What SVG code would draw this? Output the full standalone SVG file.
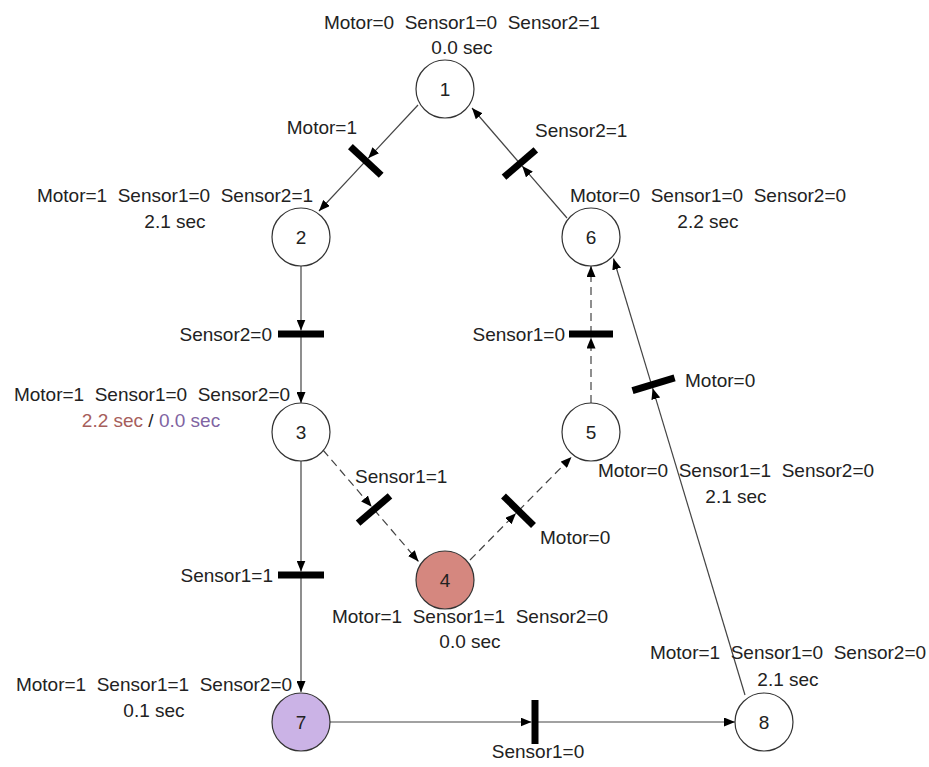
<svg xmlns="http://www.w3.org/2000/svg" width="929" height="767" viewBox="0 0 929 767">
<style>
text{font-family:"Liberation Sans",Arial,sans-serif;font-size:19px;fill:#222;white-space:pre}
.c{text-anchor:middle}
.e{text-anchor:end}
.node{fill:#fff;stroke:#333;stroke-width:1.2}
.edge{fill:none;stroke:#444;stroke-width:1.2}
.dash{stroke-dasharray:8 5}
.bar{stroke:#000;stroke-width:7;stroke-linecap:butt}
</style>
<defs>
<marker id="ah" markerUnits="userSpaceOnUse" markerWidth="11" markerHeight="9" refX="11" refY="4.5" orient="auto"><path d="M0,0 L11,4.5 L0,9 z" fill="#000"/></marker>
</defs>
<rect width="929" height="767" fill="#fff"/>
<g id="connectors">
<g id="e12"><line class="edge" x1="418" y1="105" x2="368.2" y2="158.3" marker-end="url(#ah)"/><line class="edge" x1="365.8" y1="160.9" x2="319" y2="211" marker-end="url(#ah)"/><line class="bar" x1="350.4" y1="146.6" x2="381.2" y2="175.2"/><text class="e" x="357" y="134">Motor=1</text></g>
<g id="e61"><line class="edge" x1="567" y1="218" x2="522.2" y2="166.1" marker-end="url(#ah)"/><line class="edge" x1="519.9" y1="163.5" x2="472" y2="108" marker-end="url(#ah)"/><line class="bar" x1="504" y1="177.2" x2="535.8" y2="149.8"/><text x="535" y="137">Sensor2=1</text></g>
<g id="e23"><line class="edge" x1="301" y1="266" x2="301" y2="330.5" marker-end="url(#ah)"/><line class="edge" x1="301" y1="334" x2="301" y2="403" marker-end="url(#ah)"/><line class="bar" x1="278" y1="334" x2="324" y2="334"/><text class="e" x="272" y="341">Sensor2=0</text></g>
<g id="e37"><line class="edge" x1="301" y1="461" x2="301" y2="571.5" marker-end="url(#ah)"/><line class="edge" x1="301" y1="575" x2="301" y2="692" marker-end="url(#ah)"/><line class="bar" x1="278" y1="575" x2="324" y2="575"/><text class="e" x="273" y="582">Sensor1=1</text></g>
<g id="e78"><line class="edge" x1="330" y1="722" x2="531.5" y2="722" marker-end="url(#ah)"/><line class="edge" x1="535" y1="722" x2="735" y2="722" marker-end="url(#ah)"/><line class="bar" x1="535" y1="700" x2="535" y2="744"/><text class="c" x="538" y="758">Sensor1=0</text></g>
<g id="e86"><line class="edge" x1="745" y1="695" x2="652.6" y2="388.2" marker-end="url(#ah)"/><line class="edge" x1="651.6" y1="384.8" x2="613.5" y2="258.5" marker-end="url(#ah)"/><line class="bar" x1="632.5" y1="390.6" x2="674.6" y2="377.9"/><text x="685" y="387">Motor=0</text></g>
<g id="e34"><line class="edge dash" x1="323" y1="450" x2="371.7" y2="506.8" marker-end="url(#ah)"/><line class="edge dash" x1="374" y1="509.5" x2="418.5" y2="561.5" marker-end="url(#ah)"/><line class="bar" x1="358.1" y1="523.2" x2="390" y2="495.8"/><text x="355" y="483">Sensor1=1</text></g>
<g id="e45"><line class="edge dash" x1="470" y1="560" x2="516" y2="513.3" marker-end="url(#ah)"/><line class="edge dash" x1="518.5" y1="510.8" x2="571.5" y2="457" marker-end="url(#ah)"/><line class="bar" x1="503.5" y1="496.1" x2="533.5" y2="525.5"/><text x="540" y="544">Motor=0</text></g>
<g id="e56"><line class="edge dash" x1="591" y1="403" x2="591" y2="337.5" marker-end="url(#ah)"/><line class="edge dash" x1="591" y1="334" x2="591" y2="266" marker-end="url(#ah)"/><line class="bar" x1="569" y1="334" x2="613" y2="334"/><text class="e" x="565" y="341">Sensor1=0</text></g>
</g>
<g id="n1"><circle class="node" cx="445" cy="89" r="29"/><text class="c" x="445" y="96">1</text><text class="c" x="462" y="29">Motor=0&#160; Sensor1=0&#160; Sensor2=1</text><text class="c" x="462" y="54">0.0 sec</text></g>
<g id="n2"><circle class="node" cx="301" cy="237" r="29"/><text class="c" x="301" y="244">2</text><text class="c" x="175" y="202">Motor=1&#160; Sensor1=0&#160; Sensor2=1</text><text class="c" x="175" y="228">2.1 sec</text></g>
<g id="n3"><circle class="node" cx="301" cy="432" r="29"/><text class="c" x="301" y="439">3</text><text class="c" x="152" y="401">Motor=1&#160; Sensor1=0&#160; Sensor2=0</text><text class="c" x="151" y="427"><tspan fill="#A65E5B">2.2 sec</tspan> / <tspan fill="#8064A2">0.0 sec</tspan></text></g>
<g id="n4"><circle class="node" cx="445" cy="580" r="29" style="fill:#D5877F"/><text class="c" x="445" y="587">4</text><text class="c" x="470" y="623">Motor=1&#160; Sensor1=1&#160; Sensor2=0</text><text class="c" x="470" y="648">0.0 sec</text></g>
<g id="n5"><circle class="node" cx="591" cy="432" r="29"/><text class="c" x="591" y="439">5</text><text class="c" x="736" y="477">Motor=0&#160; Sensor1=1&#160; Sensor2=0</text><text class="c" x="736" y="503">2.1 sec</text></g>
<g id="n6"><circle class="node" cx="591" cy="237" r="29"/><text class="c" x="591" y="244">6</text><text class="c" x="708" y="202">Motor=0&#160; Sensor1=0&#160; Sensor2=0</text><text class="c" x="708" y="228">2.2 sec</text></g>
<g id="n7"><circle class="node" cx="301" cy="722" r="29" style="fill:#CBB3E6"/><text class="c" x="301" y="729">7</text><text class="c" x="154" y="691">Motor=1&#160; Sensor1=1&#160; Sensor2=0</text><text class="c" x="154" y="717">0.1 sec</text></g>
<g id="n8"><circle class="node" cx="764" cy="722" r="29"/><text class="c" x="764" y="729">8</text><text class="c" x="788" y="659">Motor=1&#160; Sensor1=0&#160; Sensor2=0</text><text class="c" x="788" y="686">2.1 sec</text></g>
</svg>
